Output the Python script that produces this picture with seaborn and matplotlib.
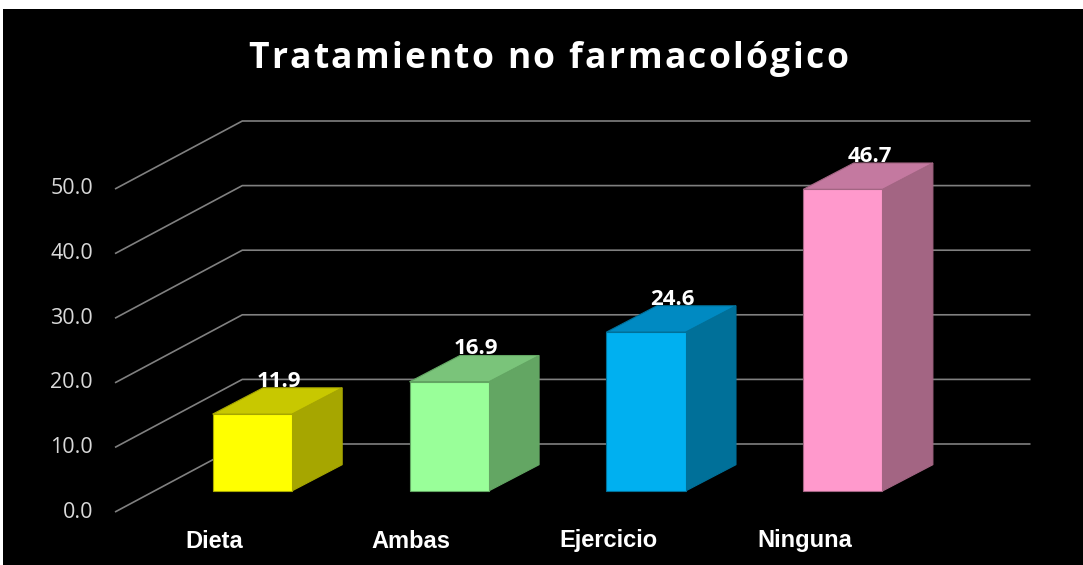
import numpy as np
import pandas as pd
import matplotlib
matplotlib.use("Agg")
import matplotlib.pyplot as plt
import seaborn as sns
from matplotlib.patches import Polygon
from matplotlib import font_manager
from matplotlib.ft2font import FT2Font

# ---- data ----
categories = ["Dieta", "Ambas", "Ejercicio", "Ninguna"]
values = [11.9, 16.9, 24.6, 46.7]
value_labels = ["11.9", "16.9", "24.6", "46.7"]
tick_values = [0, 10, 20, 30, 40, 50]
tick_labels = ["0.0", "10.0", "20.0", "30.0", "40.0", "50.0"]
title = "Tratamiento no farmacológico"

front_colors = ["#FFFF00", "#99FF99", "#00B0F0", "#FF99CC"]
top_colors = ["#C8C800", "#7AC47A", "#008AC2", "#C479A0"]
side_colors = ["#A6A600", "#63A663", "#007099", "#A36583"]

# ---- figure ----
W, H, DPI = 1083, 565, 100
fig = plt.figure(figsize=(W / DPI, H / DPI), dpi=DPI, facecolor="white")
sns.set_style("dark")
plt.rcParams["font.family"] = ["Open Sans", "DejaVu Sans"]

# black panel region (pixels): x 3..1083, y 9..565
ax = fig.add_axes([3 / W, 0, 1080 / W, 556 / H])
ax.set_facecolor("black")

df = pd.DataFrame({"cat": categories, "val": values})
sns.barplot(data=df, x="cat", y="val", hue="cat", palette=front_colors,
            width=0.402, legend=False, ax=ax, zorder=3, saturation=1,
            linewidth=0.8)

# mapping: px -> data
px_x0, px_per_cat = 252.2, 196.9
px_y0, px_per_unit = 491.0, 6.46
ax.set_xlim((3 - px_x0) / px_per_cat, (1083 - px_x0) / px_per_cat)
ax.set_ylim((px_y0 - 565) / px_per_unit, (px_y0 - 9) / px_per_unit)

# 3D geometry (data units)
floor_y = (px_y0 - 512) / px_per_unit
wall_y = (px_y0 - 444) / px_per_unit
front_x = (115 - px_x0) / px_per_cat
wall_x0 = (242.3 - px_x0) / px_per_cat
wall_x1 = (1030.5 - px_x0) / px_per_cat
bar_dx = 50.4 / px_per_cat
bar_dy = 26.3 / px_per_unit

grid_col = "#808080"
for v in tick_values:
    ax.plot([front_x, wall_x0, wall_x1], [v + floor_y, v + wall_y, v + wall_y],
            color=grid_col, lw=1.2, zorder=1, solid_capstyle="butt")

bars = [p for p in ax.patches]
for i, p in enumerate(bars):
    x0 = p.get_x()
    w = p.get_width()
    h = p.get_height()
    x1 = x0 + w
    p.set_edgecolor(side_colors[i])
    # side face
    side = Polygon([(x1, 0), (x1 + bar_dx, bar_dy), (x1 + bar_dx, h + bar_dy), (x1, h)],
                   closed=True, facecolor=side_colors[i], edgecolor=side_colors[i],
                   lw=0.8, zorder=2)
    ax.add_patch(side)
    top = Polygon([(x0, h), (x0 + bar_dx, h + bar_dy), (x1 + bar_dx, h + bar_dy), (x1, h)],
                  closed=True, facecolor=top_colors[i], edgecolor=side_colors[i],
                  lw=0.8, zorder=2)
    ax.add_patch(top)
    ax.text(x0 + w / 2 + 0.135, h + 5.1, value_labels[i], color="white",
            fontsize=16, fontweight="bold", family=["Open Sans", "DejaVu Sans"],
            ha="center", va="center", zorder=5)
    ax.text(x0 + w / 2 - 0.193, (px_y0 - 541) / px_per_unit, categories[i],
            color="white", fontsize=17, fontweight="bold",
            family=["Liberation Sans", "DejaVu Sans"], ha="center", va="center")

for v, lab in zip(tick_values, tick_labels):
    ax.text((93 - px_x0) / px_per_cat, v + floor_y, lab, color="#d9d9d9",
            fontsize=15.5, family=["Open Sans", "DejaVu Sans"],
            ha="right", va="center")

ax.set_xticks([])
ax.set_yticks([])
ax.set_xlabel("")
ax.set_ylabel("")
for s in ax.spines.values():
    s.set_visible(False)
ax.grid(False)

# ---- letter-spaced title ----
fpath = font_manager.findfont(font_manager.FontProperties(family="Open Sans", weight="bold"))
tsize = 25.5
ft = FT2Font(fpath)
ft.set_size(tsize, DPI)
adv = []
for ch in title:
    g = ft.load_char(ord(ch))
    adv.append(g.linearHoriAdvance / 65536.0)
target_left, target_right = 248.0, 848.0
natural = sum(adv)
spacing = (target_right - target_left - natural) / (len(title) - 1)
xpos = target_left
baseline_px = 68.0
for ch, a in zip(title, adv):
    fig.text(xpos / W, 1 - baseline_px / H, ch, color="white", fontsize=tsize,
             fontweight="bold", family=["Open Sans", "DejaVu Sans"],
             ha="left", va="baseline")
    xpos += a + spacing

fig.savefig("out.png", dpi=DPI, facecolor=fig.get_facecolor())
